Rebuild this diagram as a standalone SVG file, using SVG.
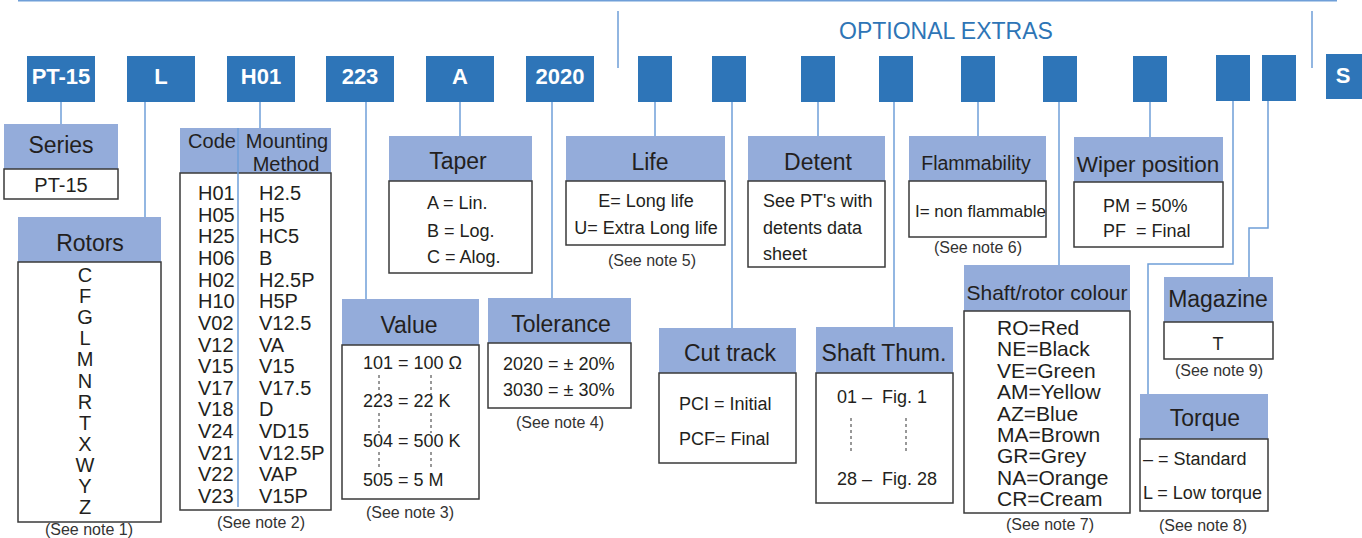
<svg xmlns="http://www.w3.org/2000/svg" width="1362" height="538" viewBox="0 0 1362 538">
<defs>
<style>
text{font-family:"Liberation Sans",Arial,sans-serif;fill:#231f20}
.code rect{fill:#2e75b8}
.code text{fill:#fff;font-weight:bold;font-size:22px;text-anchor:middle}
.hd{fill:#94acda}
.bd{fill:#fff;stroke:#3a3a3a;stroke-width:1.5}
.ht{font-size:23px;text-anchor:middle}
.t{font-size:18px}
.tc{font-size:18px;text-anchor:middle}
.l{font-size:20px}
.note{font-size:16px;text-anchor:middle;fill:#333}
.con{fill:none;stroke:#6f9fd8;stroke-width:1.5}
.dash{stroke:#333;stroke-width:1;stroke-dasharray:3 3;fill:none}
.opt{font-size:23px;fill:#2e75b6}
</style>
</defs>
<rect width="1362" height="538" fill="#fff"/>

<g id="connectors" class="con">
<path d="M18 0.75H1337"/>
<path d="M618 11V68M1312 11V68"/>
<path d="M61 102V124"/>
<path d="M145 102V217"/>
<path d="M260 102V128"/>
<path d="M366 102V299"/>
<path d="M460 102V136"/>
<path d="M552 102V298"/>
<path d="M655 102V136"/>
<path d="M732 102V328"/>
<path d="M818 102V136"/>
<path d="M894 102V327"/>
<path d="M978 102V136"/>
<path d="M1059 102V265"/>
<path d="M1150 102V137"/>
<path d="M1233 101V264H1148V394"/>
<path d="M1268 101V228H1249V277"/>
</g>

<text id="optional-extras" class="opt" x="839" y="39">OPTIONAL EXTRAS</text>

<g id="codes" class="code">
<g id="c-pt15"><rect x="27" y="56" width="68" height="46"/><text x="61" y="84">PT-15</text></g>
<g id="c-l"><rect x="127" y="56" width="68" height="46"/><text x="161" y="84">L</text></g>
<g id="c-h01"><rect x="227" y="56" width="68" height="46"/><text x="261" y="84">H01</text></g>
<g id="c-223"><rect x="326" y="56" width="68" height="46"/><text x="360" y="84">223</text></g>
<g id="c-a"><rect x="426" y="56" width="68" height="46"/><text x="460" y="84">A</text></g>
<g id="c-2020"><rect x="526" y="56" width="68" height="46"/><text x="560" y="84">2020</text></g>
<g id="c-o1"><rect x="638" y="56" width="34" height="46"/></g>
<g id="c-o2"><rect x="712" y="56" width="34" height="46"/></g>
<g id="c-o3"><rect x="801" y="56" width="34" height="46"/></g>
<g id="c-o4"><rect x="879" y="56" width="34" height="46"/></g>
<g id="c-o5"><rect x="961" y="56" width="34" height="46"/></g>
<g id="c-o6"><rect x="1043" y="56" width="34" height="46"/></g>
<g id="c-o7"><rect x="1133" y="56" width="34" height="46"/></g>
<g id="c-o8"><rect x="1216" y="55" width="34" height="46"/></g>
<g id="c-o9"><rect x="1262" y="55" width="34" height="46"/></g>
<g id="c-s"><rect x="1326" y="54" width="36" height="45"/><text x="1343" y="83">S</text></g>
</g>

<g id="series">
<rect class="hd" x="4" y="124" width="114" height="45"/>
<rect class="bd" x="4" y="169" width="114" height="30"/>
<text class="ht" x="61" y="153">Series</text>
<text class="l" x="61" y="192" text-anchor="middle">PT-15</text>
</g>

<g id="rotors">
<rect class="hd" x="18" y="217" width="143" height="45"/>
<rect class="bd" x="18" y="262" width="143" height="260"/>
<text class="ht" x="90" y="251">Rotors</text>
<g class="l" text-anchor="middle">
<text x="85" y="282">C</text><text x="85" y="303">F</text><text x="85" y="324">G</text>
<text x="85" y="345">L</text><text x="85" y="366">M</text><text x="85" y="388">N</text>
<text x="85" y="409">R</text><text x="85" y="430">T</text><text x="85" y="451">X</text>
<text x="85" y="472">W</text><text x="85" y="493">Y</text><text x="85" y="514">Z</text>
</g>
<text class="note" x="89" y="534.5">(See note 1)</text>
</g>

<g id="mounting">
<rect class="hd" x="180" y="128" width="151" height="45"/>
<rect class="bd" x="180" y="173" width="151" height="337"/>
<path d="M238 128V507" class="con"/>
<text x="212" y="148" font-size="20" text-anchor="middle">Code</text>
<text x="287" y="148" font-size="20" text-anchor="middle">Mounting</text>
<text x="286" y="171" font-size="20" text-anchor="middle">Method</text>
<g class="l">
<text x="198" y="200">H01</text><text x="259" y="200">H2.5</text>
<text x="198" y="221.6">H05</text><text x="259" y="221.6">H5</text>
<text x="198" y="243.3">H25</text><text x="259" y="243.3">HC5</text>
<text x="198" y="264.9">H06</text><text x="259" y="264.9">B</text>
<text x="198" y="286.6">H02</text><text x="259" y="286.6">H2.5P</text>
<text x="198" y="308.2">H10</text><text x="259" y="308.2">H5P</text>
<text x="198" y="329.8">V02</text><text x="259" y="329.8">V12.5</text>
<text x="198" y="351.5">V12</text><text x="259" y="351.5">VA</text>
<text x="198" y="373.1">V15</text><text x="259" y="373.1">V15</text>
<text x="198" y="394.8">V17</text><text x="259" y="394.8">V17.5</text>
<text x="198" y="416.4">V18</text><text x="259" y="416.4">D</text>
<text x="198" y="438">V24</text><text x="259" y="438">VD15</text>
<text x="198" y="459.7">V21</text><text x="259" y="459.7">V12.5P</text>
<text x="198" y="481.3">V22</text><text x="259" y="481.3">VAP</text>
<text x="198" y="503">V23</text><text x="259" y="503">V15P</text>
</g>
<text class="note" x="261" y="528">(See note 2)</text>
</g>

<g id="taper">
<rect class="hd" x="389" y="136" width="143" height="45"/>
<rect class="bd" x="389" y="181" width="143" height="92"/>
<text class="ht" x="458" y="169">Taper</text>
<text class="t" x="427" y="209">A = Lin.</text>
<text class="t" x="427" y="237">B = Log.</text>
<text class="t" x="427" y="263">C = Alog.</text>
</g>

<g id="value">
<rect class="hd" x="342" y="299" width="137" height="46"/>
<rect class="bd" x="342" y="345" width="137" height="154"/>
<text class="ht" x="409" y="333">Value</text>
<text class="t" x="363" y="369">101 = 100 Ω</text>
<text class="t" x="363" y="407">223 = 22 K</text>
<text class="t" x="363" y="447">504 = 500 K</text>
<text class="t" x="363" y="486">505 = 5 M</text>
<path class="dash" d="M379 375V395M379 413V433M379 452V470M431 375V395M431 413V433M431 452V470"/>
<text class="note" x="410" y="518">(See note 3)</text>
</g>

<g id="tolerance">
<rect class="hd" x="488" y="298" width="143" height="45"/>
<rect class="bd" x="488" y="343" width="143" height="65"/>
<text class="ht" x="561" y="332">Tolerance</text>
<text class="t" x="503" y="370">2020 = ± 20%</text>
<text class="t" x="503" y="396">3030 = ± 30%</text>
<text class="note" x="560" y="428">(See note 4)</text>
</g>

<g id="life">
<rect class="hd" x="566" y="136" width="159" height="45"/>
<rect class="bd" x="566" y="181" width="159" height="64"/>
<text class="ht" x="650" y="170">Life</text>
<text class="tc" x="646" y="207">E= Long life</text>
<text class="tc" x="646" y="234">U= Extra Long life</text>
<text class="note" x="652" y="266">(See note 5)</text>
</g>

<g id="detent">
<rect class="hd" x="748" y="136" width="137" height="45"/>
<rect class="bd" x="748" y="181" width="137" height="86"/>
<text class="ht" x="818" y="170">Detent</text>
<text class="t" x="763" y="207">See PT's with</text>
<text class="t" x="763" y="234">detents data</text>
<text class="t" x="763" y="260">sheet</text>
</g>

<g id="cut-track">
<rect class="hd" x="659" y="328" width="137" height="45"/>
<rect class="bd" x="659" y="373" width="137" height="90"/>
<text class="ht" x="730" y="361">Cut track</text>
<text class="t" x="679" y="410">PCI = Initial</text>
<text class="t" x="679" y="445">PCF= Final</text>
</g>

<g id="shaft-thum">
<rect class="hd" x="816" y="327" width="137" height="46"/>
<rect class="bd" x="816" y="373" width="137" height="130"/>
<text class="ht" x="884" y="361">Shaft Thum.</text>
<text class="t" y="403"><tspan x="837">01 –</tspan><tspan x="882">Fig. 1</tspan></text>
<text class="t" y="485"><tspan x="837">28 –</tspan><tspan x="882">Fig. 28</tspan></text>
<path class="dash" stroke-dasharray="2 2" d="M851 418V453M906 418V453"/>
</g>

<g id="flammability">
<rect class="hd" x="909" y="136" width="137" height="45"/>
<rect class="bd" x="909" y="181" width="137" height="56"/>
<text x="976" y="170" font-size="19.5" text-anchor="middle">Flammability</text>
<text x="915" y="217" font-size="17">I= non flammable</text>
<text class="note" x="978" y="253">(See note 6)</text>
</g>

<g id="shaft-rotor-colour">
<rect class="hd" x="964" y="265" width="166" height="46"/>
<rect class="bd" x="964" y="311" width="166" height="202"/>
<text x="1047" y="300" font-size="21" text-anchor="middle">Shaft/rotor colour</text>
<g font-size="21">
<text x="997" y="335">RO=Red</text>
<text x="997" y="356.4">NE=Black</text>
<text x="997" y="377.8">VE=Green</text>
<text x="997" y="399.2">AM=Yellow</text>
<text x="997" y="420.6">AZ=Blue</text>
<text x="997" y="442">MA=Brown</text>
<text x="997" y="463.4">GR=Grey</text>
<text x="997" y="484.8">NA=Orange</text>
<text x="997" y="506.2">CR=Cream</text>
</g>
<text class="note" x="1050" y="530">(See note 7)</text>
</g>

<g id="wiper-position">
<rect class="hd" x="1074" y="137" width="149" height="45"/>
<rect class="bd" x="1074" y="182" width="149" height="65"/>
<text x="1148" y="172" font-size="22.5" text-anchor="middle">Wiper position</text>
<text class="t" y="212"><tspan x="1103">PM</tspan><tspan x="1136">= 50%</tspan></text>
<text class="t" y="237"><tspan x="1103">PF</tspan><tspan x="1136">= Final</tspan></text>
</g>

<g id="magazine">
<rect class="hd" x="1164" y="277" width="109" height="45"/>
<rect class="bd" x="1164" y="322" width="109" height="37"/>
<text class="ht" x="1218" y="307">Magazine</text>
<text class="tc" x="1218" y="350" font-size="20">T</text>
<text class="note" x="1219" y="376">(See note 9)</text>
</g>

<g id="torque">
<rect class="hd" x="1140" y="394" width="128" height="45"/>
<rect class="bd" x="1140" y="439" width="128" height="72"/>
<text class="ht" x="1205" y="426">Torque</text>
<text class="t" x="1143" y="465">– = Standard</text>
<text class="t" x="1143" y="499">L = Low torque</text>
<text class="note" x="1203" y="531">(See note 8)</text>
</g>
</svg>
